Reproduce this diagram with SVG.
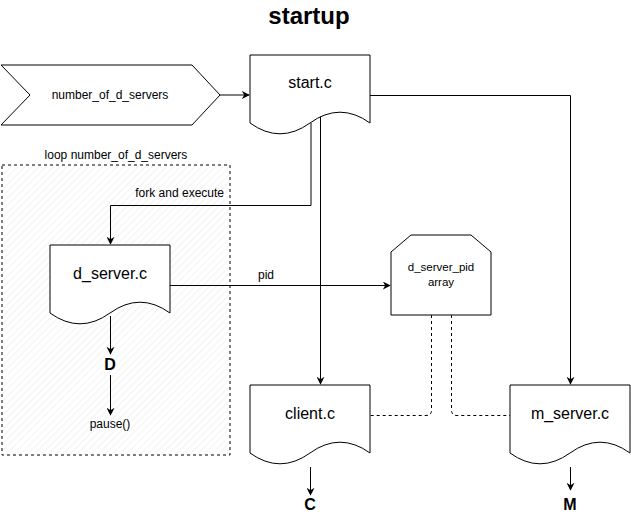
<svg xmlns="http://www.w3.org/2000/svg" width="631" height="516" viewBox="0 0 631 516">
<style>
.s{fill:#fff;stroke:#000;stroke-width:1}
.e{fill:none;stroke:#000;stroke-width:1}
.d{fill:none;stroke:#000;stroke-width:1;stroke-dasharray:3 3}
text{font-family:"Liberation Sans",Arial,Helvetica,sans-serif;fill:#000}
.t12{font-size:12px}
.t16{font-size:16px}
.b16{font-size:16px;font-weight:bold}
</style>
<defs>
<marker id="ah" viewBox="0 0 10 10" refX="9" refY="5" markerWidth="8" markerHeight="8" markerUnits="userSpaceOnUse" orient="auto">
<path d="M0,0 L10,5 L0,10 L3,5 Z" fill="#000"/>
</marker>
<pattern id="hatch" patternUnits="userSpaceOnUse" width="5" height="5" patternTransform="rotate(45)">
<line x1="0" y1="0" x2="0" y2="5" stroke="#e8e8e8" stroke-width="1"/>
</pattern>
</defs>
<text x="309" y="24" text-anchor="middle" style="font-size:24px;font-weight:bold">startup</text>

<g id="loop">
<rect x="2" y="165" width="228" height="290" fill="url(#hatch)" stroke="#000" stroke-dasharray="3 3"/>
<text class="t12" x="116" y="159" text-anchor="middle">loop number_of_d_servers</text>
</g>

<g id="number_of_d_servers">
<path class="s" d="M1,65 L192,65 L220,95 L192,125 L1,125 L30,95 Z"/>
<text class="t12" x="110" y="99" text-anchor="middle">number_of_d_servers</text>
</g>

<g id="start">
<path class="s" d="M250,55 L370,55 L370,123 Q340,101.4 310,123 Q280,144.6 250,123 Z"/>
<text class="t16" x="310" y="88" text-anchor="middle">start.c</text>
</g>

<g id="d_server">
<path class="s" d="M50,245 L170,245 L170,313 Q140,291.4 110,313 Q80,334.6 50,313 Z"/>
<text class="t16" x="110" y="279" text-anchor="middle">d_server.c</text>
</g>

<g id="d_server_pid_array">
<path class="s" d="M411,235 L471,235 L491,252 L491,315 L391,315 L391,252 Z"/>
<text x="441" y="271" text-anchor="middle" style="font-size:11.5px">d_server_pid</text>
<text x="441" y="286" text-anchor="middle" style="font-size:11.5px">array</text>
</g>

<g id="client">
<path class="s" d="M250,385 L370,385 L370,453 Q340,431.4 310,453 Q280,474.6 250,453 Z"/>
<text class="t16" x="310" y="419" text-anchor="middle">client.c</text>
</g>

<g id="m_server">
<path class="s" d="M510,385 L630,385 L630,453 Q600,431.4 570,453 Q540,474.6 510,453 Z"/>
<text class="t16" x="570" y="419" text-anchor="middle">m_server.c</text>
</g>

<g id="D"><text class="b16" x="110" y="370" text-anchor="middle">D</text></g>
<g id="pause"><text class="t12" x="110" y="428" text-anchor="middle">pause()</text></g>
<g id="C"><text class="b16" x="310" y="510" text-anchor="middle">C</text></g>
<g id="M"><text class="b16" x="570" y="510" text-anchor="middle">M</text></g>

<g id="connectors">
<path class="e" d="M220,95 L249,95" marker-end="url(#ah)"/>
<path class="e" d="M311,123 L311,205.5 L110.5,205.5 L110.5,244" marker-end="url(#ah)"/>
<text class="t12" x="224" y="197" text-anchor="end">fork and execute</text>
<path class="e" d="M320.5,116.5 L320.5,384" marker-end="url(#ah)"/>
<path class="e" d="M370,95.5 L570.5,95.5 L570.5,384" marker-end="url(#ah)"/>
<path class="e" d="M170,285.5 L390,285.5" marker-end="url(#ah)"/>
<text class="t12" x="266" y="279" text-anchor="middle">pid</text>
<path class="e" d="M110.5,316 L110.5,354" marker-end="url(#ah)"/>
<path class="e" d="M110.5,375 L110.5,415" marker-end="url(#ah)"/>
<path class="e" d="M310.5,467 L310.5,495" marker-end="url(#ah)"/>
<path class="e" d="M570.5,467 L570.5,490" marker-end="url(#ah)"/>
<path class="d" d="M431.5,315 L431.5,410 Q431.5,415.5 426,415.5 L370,415.5"/>
<path class="d" d="M451.5,315 L451.5,410 Q451.5,415.5 457,415.5 L510,415.5"/>
</g>
</svg>
